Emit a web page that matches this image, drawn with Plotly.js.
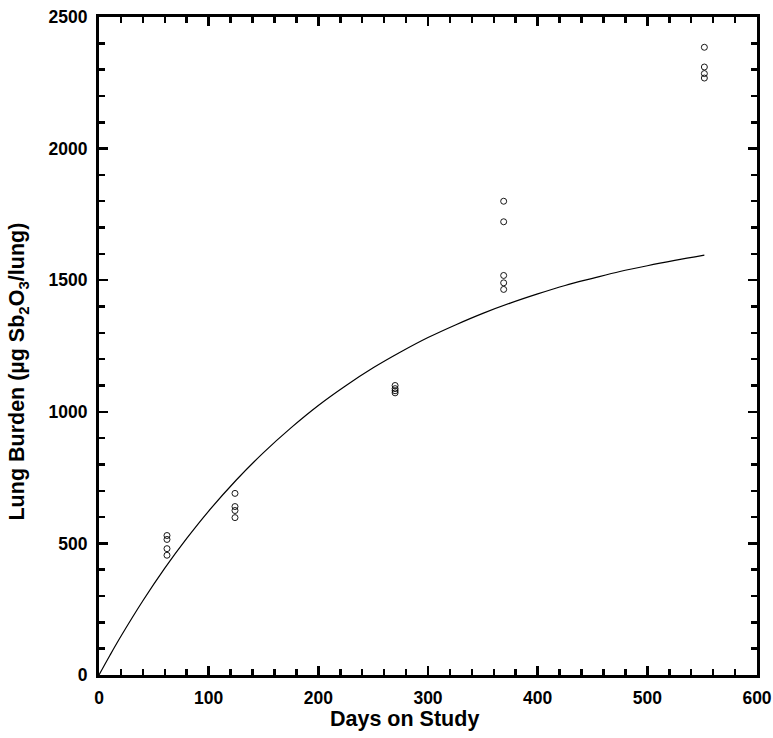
<!DOCTYPE html>
<html>
<head>
<meta charset="utf-8">
<script src="https://cdn.plot.ly/plotly-3.0.1.min.js"></script>
<style>html,body{margin:0;padding:0;background:#fff;}</style>
</head>
<body>
<div id="chart" style="width:773px;height:738px;"></div>
<script>
// Observed lung burdens (µg Sb2O3/lung) by day on study
const obsDays = [62, 62, 62, 62,
                 124, 124, 124, 124,
                 270, 270, 270, 270,
                 369, 369, 369, 369, 369,
                 552, 552, 552, 552];
const obsValues = [530, 515, 480, 455,
                   690, 640, 625, 598,
                   1100, 1088, 1080, 1072,
                   1800, 1722, 1518, 1490, 1465,
                   2385, 2310, 2285, 2268];

// Model curve
const curveDays = [0, 10, 20, 40, 60, 80, 100, 125, 150, 175, 200, 225, 250, 275,
                   300, 325, 350, 375, 400, 425, 450, 475, 500, 525, 552];
const curveValues = [0, 75, 147, 282, 406, 519, 623, 740, 845, 939, 1024, 1099, 1167, 1227,
                     1282, 1330, 1374, 1413, 1448, 1480, 1507, 1533, 1555, 1575, 1595];

const xTickVals = [0, 100, 200, 300, 400, 500, 600];
const yTickVals = [0, 500, 1000, 1500, 2000, 2500];
const xTitle = 'Days on Study';
const yTitle = 'Lung Burden (µg Sb<sub>2</sub>O<sub>3</sub>/lung)';

const font = {family: 'Arial, "Liberation Sans", sans-serif', color: '#000'};
const titleFont = Object.assign({size: 21.5, weight: 700}, font);

const traces = [
  {
    x: curveDays, y: curveValues, type: 'scatter', mode: 'lines',
    line: {color: '#000', width: 1.2, shape: 'spline'},
    hoverinfo: 'skip', showlegend: false
  },
  {
    x: obsDays, y: obsValues, type: 'scatter', mode: 'markers',
    marker: {symbol: 'circle-open', size: 6, color: '#000', line: {width: 0.9, color: '#000'}},
    showlegend: false
  }
];

const axisCommon = {
  showgrid: false, zeroline: false, showline: true, linecolor: '#000', linewidth: 3,
  mirror: 'ticks', ticks: 'inside', ticklen: 9, tickwidth: 2.5, tickcolor: '#000',
  tickfont: Object.assign({size: 17.5, weight: 700}, font),
  ticklabelstandoff: 5
};

const layout = {
  width: 773, height: 738,
  margin: {l: 99, r: 16, t: 17, b: 63},
  paper_bgcolor: '#fff', plot_bgcolor: '#fff',
  font: font,
  xaxis: Object.assign({}, axisCommon, {
    range: [0, 600], tickmode: 'array', tickvals: xTickVals,
    minor: {dtick: 20, ticks: 'inside', ticklen: 6, tickwidth: 2.5, tickcolor: '#000'}
  }),
  yaxis: Object.assign({}, axisCommon, {
    range: [0, 2500], tickmode: 'array', tickvals: yTickVals,
    minor: {dtick: 100, ticks: 'inside', ticklen: 6, tickwidth: 2.5, tickcolor: '#000'}
  }),
  annotations: [
    {text: xTitle, xref: 'paper', yref: 'paper', x: 0.4643, y: -0.0669,
     xanchor: 'center', yanchor: 'middle', showarrow: false, font: titleFont},
    {text: yTitle, xref: 'paper', yref: 'paper', x: -0.1216, y: 0.4612, textangle: -90,
     xanchor: 'center', yanchor: 'middle', showarrow: false, font: titleFont}
  ]
};

Plotly.newPlot('chart', traces, layout, {displayModeBar: false, staticPlot: true});
</script>
</body>
</html>
